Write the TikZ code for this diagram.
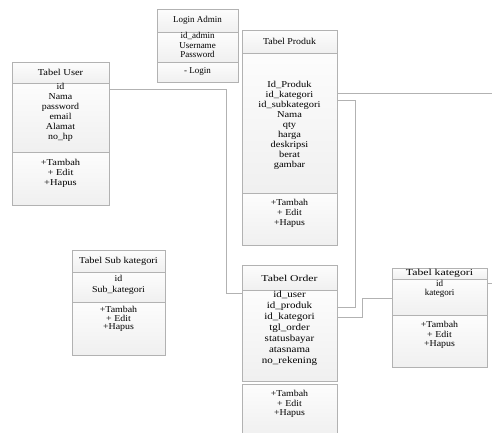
\documentclass[tikz,border=0pt]{standalone}
\usepackage{fontspec}
\setmainfont{Liberation Serif}
\newfontfamily\fsa[FakeStretch=1.1]{Liberation Serif}
\newfontfamily\fsb[FakeStretch=1.16]{Liberation Serif}
\newfontfamily\fsc[FakeStretch=1.3]{Liberation Serif}
\usetikzlibrary{calc,shadows}
\tikzset{
  comp/.style={draw=gray!60, line width=0.8pt, top color=gray!2, bottom color=gray!12,
    inner sep=0pt, anchor=north west,
    drop shadow={opacity=0.18, shadow xshift=0.8pt, shadow yshift=-0.8pt}},
  txt/.style={font=\fontsize{9}{10}\selectfont, align=center, inner sep=0pt, text=black},
  link/.style={draw=gray!60, line width=0.8pt},
}
\begin{document}
\begin{tikzpicture}[x=1pt,y=-1pt]
\useasboundingbox[fill=white] (0,0) rectangle (492,432);

% Login Admin
\node[comp, minimum width=81pt, minimum height=23pt] (lah) at (157,9) {};
\node[comp, minimum width=81pt, minimum height=30pt] (lab) at (157,32) {};
\node[comp, minimum width=81pt, minimum height=20pt] (lam) at (157,62) {};
\node[txt] (lat) at (197.5,20.5) {Login Admin};
\node[txt, font=\fontsize{9}{9.5}\selectfont] (labt) at (197.5,45) {id\_admin\\Username\\Password};
\node[txt] (lamt) at (197.5,71.5) {- Login};

% Tabel User
\node[comp, minimum width=97pt, minimum height=21pt] (uh) at (12,62) {};
\node[comp, minimum width=97pt, minimum height=69pt] (ub) at (12,83) {};
\node[comp, minimum width=97pt, minimum height=53pt] (um) at (12,152) {};
\node[txt, font=\fsb\fontsize{9}{10}\selectfont] (uht) at (60.5,72) {Tabel User};
\node[txt, font=\fsa\fontsize{9}{10}\selectfont] (ubt) at (60.5,112) {id\\Nama\\password\\email\\Alamat\\no\_hp};
\node[txt, font=\fsb\fontsize{9}{10}\selectfont] (umt) at (60.5,173) {+Tambah\\+ Edit\\+Hapus};

% Tabel Produk
\node[comp, minimum width=95pt, minimum height=23pt] (ph) at (242,30) {};
\node[comp, minimum width=95pt, minimum height=140pt] (pb) at (242,53) {};
\node[comp, minimum width=95pt, minimum height=52pt] (pm) at (242,193) {};
\node[txt, font=\fsa\fontsize{9}{10}\selectfont] (pht) at (289.5,41) {Tabel Produk};
\node[txt, font=\fsb\fontsize{9}{10}\selectfont] (pbt) at (289.5,125) {Id\_Produk\\id\_kategori\\id\_subkategori\\Nama\\qty\\harga\\deskripsi\\berat\\gambar};
\node[txt, font=\fsa\fontsize{9}{10}\selectfont] (pmt) at (289.5,213) {+Tambah\\+ Edit\\+Hapus};

% Tabel Sub kategori
\node[comp, minimum width=93pt, minimum height=22pt] (sh) at (72,250) {};
\node[comp, minimum width=93pt, minimum height=30pt] (sb) at (72,272) {};
\node[comp, minimum width=93pt, minimum height=53pt] (sm) at (72,302) {};
\node[txt, font=\fsb\fontsize{9}{10}\selectfont] (sht) at (118.5,261) {Tabel Sub kategori};
\node[txt, font=\fsa\fontsize{9}{11.5}\selectfont] (sbt) at (118.5,285) {id\\Sub\_kategori};
\node[txt, font=\fsa\fontsize{9}{8.5}\selectfont] (smt) at (118.5,319) {+Tambah\\+ Edit\\+Hapus};

% Tabel Order
\node[comp, minimum width=95pt, minimum height=25pt] (oh) at (242,265) {};
\node[comp, minimum width=95pt, minimum height=91pt] (ob) at (242,290) {};
\node[comp, minimum width=95pt, minimum height=52pt] (om) at (242,384) {};
\node[txt, font=\fsc\fontsize{9}{10}\selectfont] (oht) at (289.5,278) {Tabel Order};
\node[txt, font=\fsb\fontsize{9.5}{11}\selectfont] (obt) at (289.5,328) {id\_user\\id\_produk\\id\_kategori\\tgl\_order\\statusbayar\\atasnama\\no\_rekening};
\node[txt, font=\fsa\fontsize{9}{9.5}\selectfont] (omt) at (289.5,404) {+Tambah\\+ Edit\\+Hapus};

% Tabel kategori
\node[comp, minimum width=95pt, minimum height=11pt] (kh) at (392,268) {};
\node[comp, minimum width=95pt, minimum height=36pt] (kb) at (392,279) {};
\node[comp, minimum width=95pt, minimum height=52pt] (km) at (392,315) {};
\node[txt, font=\fsc\fontsize{9}{10}\selectfont] (kht) at (439.5,273.5) {Tabel kategori};
\node[txt, font=\fontsize{9}{9.5}\selectfont] (kbt) at (439.5,289) {id\\kategori};
\node[txt, font=\fsa\fontsize{9}{9.5}\selectfont] (kmt) at (439.5,335) {+Tambah\\+ Edit\\+Hapus};

% free ends
\coordinate (pend) at (492,93);
\coordinate (kend) at (492,283);

% connectors
\draw[link] ($(ub.north east)+(0,6)$) -- ++(117,0) |- ($(ob.north west)+(0,3)$);
\draw[link] ($(pb.north east)+(0,40)$) -- (pend);
\draw[link] ($(pb.north east)+(0,47)$) -- ++(18,0) |- ($(ob.north east)+(0,17)$);
\draw[link] ($(ob.north east)+(0,27)$) -- ++(25,0) |- ($(kb.north west)+(0,19)$);
\draw[link] ($(kb.north east)+(0,4)$) -- (kend);
\end{tikzpicture}
\end{document}
